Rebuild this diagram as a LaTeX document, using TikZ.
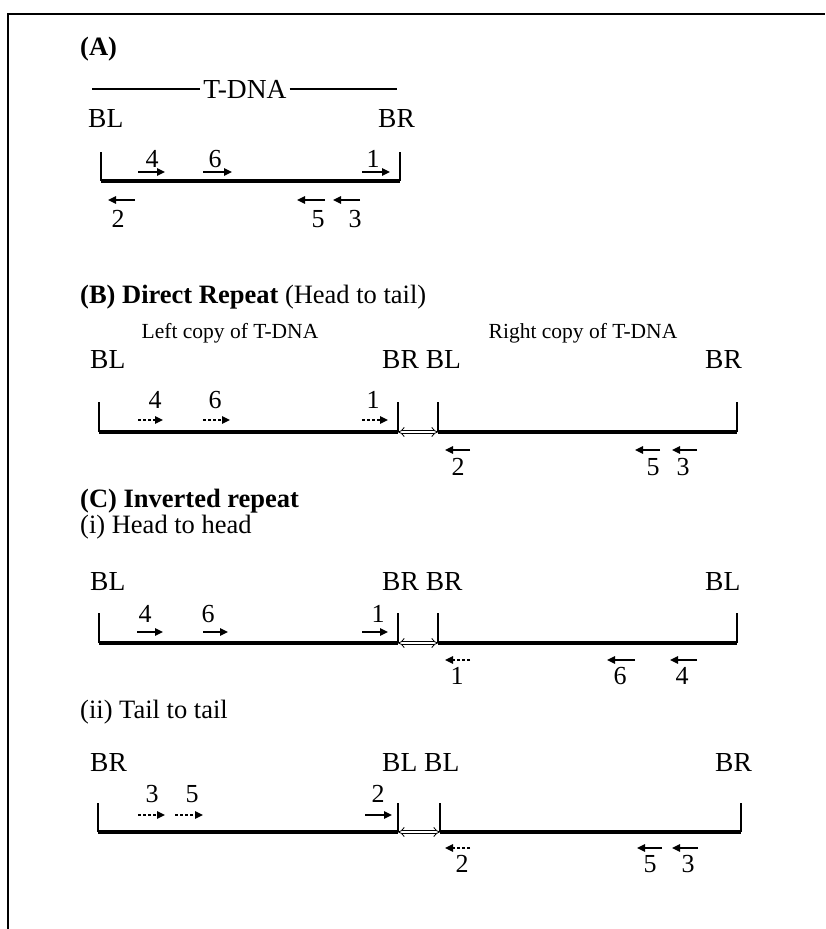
\documentclass[tikz,border=0pt]{standalone}
\usepackage{fontspec}
\setmainfont{Liberation Serif}
\usetikzlibrary{arrows.meta}
\tikzset{
  lbl/.style={inner sep=0pt, anchor=base west, font=\fontsize{27.5}{32}\selectfont},
  num/.style={inner sep=0pt, anchor=base, font=\fontsize{26}{30}\selectfont},
  ttl/.style={inner sep=0pt, anchor=base west, font=\fontsize{26.5}{31}\selectfont},
  small/.style={inner sep=0pt, anchor=base, font=\fontsize{21.5}{25}\selectfont},
  dna/.style={line width=4.5pt},
  bar/.style={line width=1.4pt},
  primer/.style={line width=1.4pt, -{Triangle[length=8pt,width=7.5pt]}},
  primerd/.style={primer, dash pattern=on 3pt off 2pt},
  junction/.style={line width=0.8pt, double distance=2.6pt, {Implies}-{Implies}},
  frame/.style={line width=2pt}
}
\begin{document}
\begin{tikzpicture}[x=1pt,y=-1pt]
\useasboundingbox (0,0) rectangle (825,929);
% frame
\draw[frame] (7,14) -- (825,14);
\draw[line width=1.6pt] (8,14) -- (8,929);

% ---------------- (A)
\node[ttl] (tA) at (80,55) {\textbf{(A)}};
\node[inner sep=3pt, font=\fontsize{27.5}{32}\selectfont] (tdna) at (245,89) {T-DNA};
\coordinate (tl) at (92,89);
\coordinate (tr) at (397,89);
\draw[line width=2pt] (tl) -- (tdna.west);
\draw[line width=2pt] (tdna.east) -- (tr);
\node[lbl] (aBL) at (88,127) {BL};
\node[lbl] (aBR) at (378,127) {BR};
\coordinate (a1) at (101,152);
\coordinate (a2) at (101,181);
\coordinate (a3) at (400,181);
\coordinate (a4) at (400,152);
\draw[bar] (a1) -- (a2);
\draw[bar] (a4) -- (a3);
\draw[dna] (a2) -- (a3);
\draw[primer] (138,172) -- (165,172);
\draw[primer] (203,172) -- (232,172);
\draw[primer] (362,172) -- (390,172);
\node[num] (an4) at (152,167) {4};
\node[num] (an6) at (215,167) {6};
\node[num] (an1) at (373,167) {1};
\draw[primer] (135,200) -- (108,200);
\draw[primer] (325,200) -- (297,200);
\draw[primer] (360,200) -- (333,200);
\node[num] (an2) at (118,227) {2};
\node[num] (an5) at (318,227) {5};
\node[num] (an3) at (355,227) {3};

% ---------------- (B)
\node[ttl] (tB) at (80,303) {\textbf{(B) Direct Repeat} (Head to tail)};
\node[small] (lcopy) at (230,338) {Left copy of T-DNA};
\node[small] (rcopy) at (583,338) {Right copy of T-DNA};
\node[lbl] (bBL) at (90,368) {BL};
\node[lbl] (bBRBL) at (382,368) {BR BL};
\node[lbl] (bBR) at (705,368) {BR};
\coordinate (b1) at (99,402);  \coordinate (b2) at (99,432);
\coordinate (b3) at (398,402); \coordinate (b4) at (398,432);
\coordinate (b5) at (438,402); \coordinate (b6) at (438,432);
\coordinate (b7) at (737,402); \coordinate (b8) at (737,432);
\draw[bar] (b1) -- (b2); \draw[bar] (b3) -- (b4);
\draw[bar] (b5) -- (b6); \draw[bar] (b7) -- (b8);
\draw[dna] (b2) -- (b4);
\draw[dna] (b6) -- (b8);
\draw[junction] (b4) -- (b6);
\draw[primerd] (138,420) -- (163,420);
\draw[primerd] (203,420) -- (230,420);
\draw[primerd] (362,420) -- (388,420);
\node[num] (bn4) at (155,408) {4};
\node[num] (bn6) at (215,408) {6};
\node[num] (bn1) at (373,408) {1};
\draw[primer] (470,450) -- (445,450);
\draw[primer] (660,450) -- (635,450);
\draw[primer] (697,450) -- (672,450);
\node[num] (bn2) at (458,475) {2};
\node[num] (bn5) at (653,475) {5};
\node[num] (bn3) at (683,475) {3};

% ---------------- (C)
\node[ttl] (tC) at (80,507) {\textbf{(C) Inverted repeat}};
\node[ttl] (tCi) at (80,533) {(i) Head to head};
\node[lbl] (cBL) at (90,590) {BL};
\node[lbl] (cBRBR) at (382,590) {BR BR};
\node[lbl] (cBL2) at (705,590) {BL};
\coordinate (c1) at (99,613);  \coordinate (c2) at (99,643);
\coordinate (c3) at (398,613); \coordinate (c4) at (398,643);
\coordinate (c5) at (438,613); \coordinate (c6) at (438,643);
\coordinate (c7) at (737,613); \coordinate (c8) at (737,643);
\draw[bar] (c1) -- (c2); \draw[bar] (c3) -- (c4);
\draw[bar] (c5) -- (c6); \draw[bar] (c7) -- (c8);
\draw[dna] (c2) -- (c4);
\draw[dna] (c6) -- (c8);
\draw[junction] (c4) -- (c6);
\draw[primer] (137,632) -- (163,632);
\draw[primer] (203,632) -- (228,632);
\draw[primer] (362,632) -- (388,632);
\node[num] (cn4) at (145,622) {4};
\node[num] (cn6) at (208,622) {6};
\node[num] (cn1) at (378,622) {1};
\draw[primerd] (470,660) -- (445,660);
\draw[primer] (635,660) -- (607,660);
\draw[primer] (697,660) -- (670,660);
\node[num] (cm1) at (457,684) {1};
\node[num] (cm6) at (620,684) {6};
\node[num] (cm4) at (682,684) {4};

% (ii)
\node[ttl] (tCii) at (80,718) {(ii) Tail to tail};
\node[lbl] (dBR) at (90,771) {BR};
\node[lbl] (dBLBL) at (382,771) {BL BL};
\node[lbl] (dBR2) at (715,771) {BR};
\coordinate (d1) at (98,803);  \coordinate (d2) at (98,832);
\coordinate (d3) at (398,803); \coordinate (d4) at (398,832);
\coordinate (d5) at (440,803); \coordinate (d6) at (440,832);
\coordinate (d7) at (741,803); \coordinate (d8) at (741,832);
\draw[bar] (d1) -- (d2); \draw[bar] (d3) -- (d4);
\draw[bar] (d5) -- (d6); \draw[bar] (d7) -- (d8);
\draw[dna] (d2) -- (d4);
\draw[dna] (d6) -- (d8);
\draw[junction] (d4) -- (d6);
\draw[primerd] (138,815) -- (165,815);
\draw[primerd] (175,815) -- (203,815);
\draw[primer] (365,815) -- (392,815);
\node[num] (dn3) at (152,802) {3};
\node[num] (dn5) at (192,802) {5};
\node[num] (dn2) at (378,802) {2};
\draw[primerd] (470,848) -- (445,848);
\draw[primer] (662,848) -- (637,848);
\draw[primer] (698,848) -- (672,848);
\node[num] (dm2) at (462,872) {2};
\node[num] (dm5) at (650,872) {5};
\node[num] (dm3) at (688,872) {3};
\end{tikzpicture}
\end{document}
